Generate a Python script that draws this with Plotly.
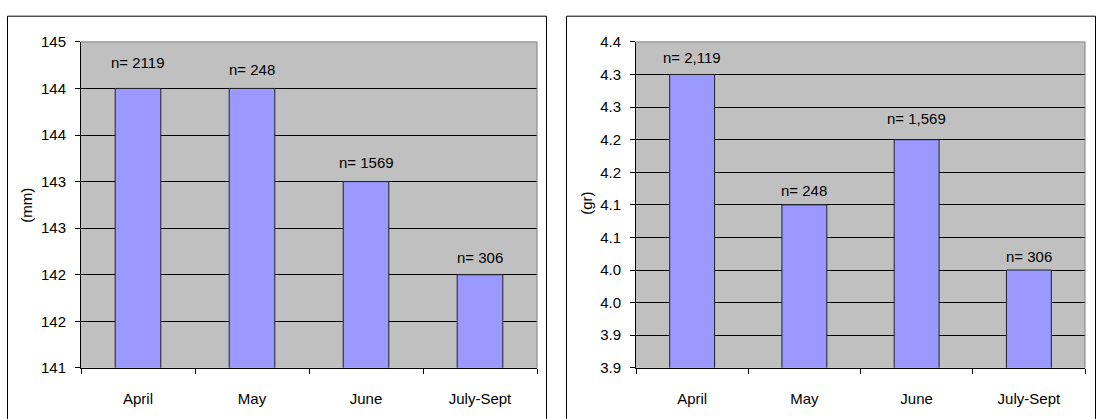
import plotly.graph_objects as go

# ---- data ----
months = ["April", "May", "June", "July-Sept"]
length_mm = [144.0, 144.0, 143.0, 142.0]
weight_gr = [4.30, 4.10, 4.20, 4.00]
length_n_labels = ["n= 2119", "n= 248", "n= 1569", "n= 306"]
weight_n_labels = ["n= 2,119", "n= 248", "n= 1,569", "n= 306"]

length_tick_vals = [141.0, 141.5, 142.0, 142.5, 143.0, 143.5, 144.0, 144.5]
length_tick_text = ["141", "142", "142", "143", "143", "144", "144", "145"]
weight_tick_vals = [3.85, 3.90, 3.95, 4.00, 4.05, 4.10, 4.15, 4.20, 4.25, 4.30, 4.35]
weight_tick_text = ["3.9", "3.9", "4.0", "4.0", "4.1", "4.1", "4.2", "4.2", "4.3", "4.3", "4.4"]

# ---- style ----
W, H = 1101, 419
FONT = "Liberation Sans, Arial, sans-serif"
FS = 15
BAR_FILL = "#9999FF"
PLOT_BG = "#C0C0C0"
# pixel lift of each "n=" label above its bar
length_label_lift = [15, 8, 9, 7]
weight_label_lift = [6, 4, 11, 3]


def px_x(p):
    return p / W


def px_y(p):
    return (H - p) / H


fig = go.Figure()

fig.add_trace(go.Bar(
    x=months, y=length_mm, width=0.4,
    marker=dict(color=BAR_FILL, line=dict(color="#222222", width=1)),
    xaxis="x", yaxis="y", showlegend=False, hoverinfo="skip",
))
fig.add_trace(go.Bar(
    x=months, y=weight_gr, width=0.4,
    marker=dict(color=BAR_FILL, line=dict(color="#222222", width=1)),
    xaxis="x2", yaxis="y2", showlegend=False, hoverinfo="skip",
))

plot_top, plot_bottom = 34.3, 374.0
ydom = [px_y(plot_bottom), px_y(plot_top)]
left_dom = [px_x(81), px_x(537)]
right_dom = [px_x(636), px_x(1085)]

xaxis_common = dict(
    type="category", showgrid=False, showline=True, linecolor="black", linewidth=1,
    ticks="outside", ticklen=5, tickcolor="black", tickson="boundaries",
    ticklabelstandoff=17, tickfont=dict(family=FONT, size=FS, color="black"),
    fixedrange=True, zeroline=False,
)
yaxis_common = dict(
    showgrid=True, gridcolor="black", gridwidth=1, showline=True, linecolor="black",
    linewidth=1, ticks="outside", ticklen=5, tickcolor="black", ticklabelstandoff=6,
    tickfont=dict(family=FONT, size=FS, color="black"), tickmode="array",
    zeroline=False, fixedrange=True,
)

annotations = []
for m, v, t, lift in zip(months, length_mm, length_n_labels, length_label_lift):
    annotations.append(dict(x=m, y=v, xref="x", yref="y", text=t, showarrow=False,
                            yanchor="bottom", yshift=lift,
                            font=dict(family=FONT, size=FS, color="black")))
for m, v, t, lift in zip(months, weight_gr, weight_n_labels, weight_label_lift):
    annotations.append(dict(x=m, y=v, xref="x2", yref="y2", text=t, showarrow=False,
                            yanchor="bottom", yshift=lift,
                            font=dict(family=FONT, size=FS, color="black")))

# axis titles
annotations.append(dict(x=px_x(27), y=px_y(205), xref="paper", yref="paper", text="(mm)",
                        showarrow=False, textangle=-90, xanchor="center", yanchor="middle",
                        font=dict(family=FONT, size=FS, color="black")))
annotations.append(dict(x=px_x(587), y=px_y(203), xref="paper", yref="paper", text="(gr)",
                        showarrow=False, textangle=-90, xanchor="center", yanchor="middle",
                        font=dict(family=FONT, size=FS, color="black")))

shapes = []
# panel frames
for x0, x1 in [(7.5, 546.5), (566.5, 1095.5)]:
    shapes.append(dict(type="rect", xref="paper", yref="paper",
                       x0=px_x(x0), x1=px_x(x1), y0=-0.2, y1=px_y(7.5),
                       line=dict(color="black", width=1), fillcolor="rgba(0,0,0,0)"))
# gray top and right edges of each plot area
for dom in [left_dom, right_dom]:
    shapes.append(dict(type="line", xref="paper", yref="paper", x0=dom[0], x1=dom[1],
                       y0=ydom[1], y1=ydom[1], line=dict(color="#808080", width=1)))
    shapes.append(dict(type="line", xref="paper", yref="paper", x0=dom[1], x1=dom[1],
                       y0=ydom[0], y1=ydom[1], line=dict(color="#808080", width=1)))

fig.update_layout(
    width=W, height=H,
    margin=dict(l=0, r=0, t=0, b=0),
    paper_bgcolor="white", plot_bgcolor=PLOT_BG,
    bargap=0.6,
    xaxis=dict(domain=left_dom, anchor="y", **xaxis_common),
    yaxis=dict(domain=ydom, anchor="x", range=[141.0, 144.5],
               tickvals=length_tick_vals, ticktext=length_tick_text, **yaxis_common),
    xaxis2=dict(domain=right_dom, anchor="y2", **xaxis_common),
    yaxis2=dict(domain=ydom, anchor="x2", range=[3.85, 4.35],
                tickvals=weight_tick_vals, ticktext=weight_tick_text, **yaxis_common),
    annotations=annotations,
    shapes=shapes,
)

fig.write_html("out.html", config={"displayModeBar": False})
